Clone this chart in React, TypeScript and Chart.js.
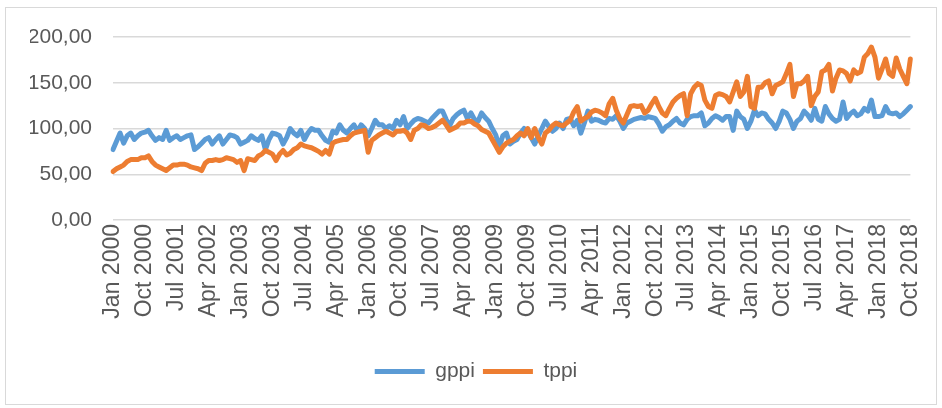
import React, { useEffect, useRef } from "react";
import { Chart, registerables } from "chart.js";

Chart.register(...registerables);

const monthNames = ["Jan", "Feb", "Mar", "Apr", "May", "Jun", "Jul", "Aug", "Sep", "Oct", "Nov", "Dec"];
const firstYear = 2000;
const monthCount = 226; // Jan 2000 .. Oct 2018

const categories: string[] = Array.from(
  { length: monthCount },
  (_, i) => `${monthNames[i % 12]} ${firstYear + Math.floor(i / 12)}`
);

const tickLabels = [
  "Jan 2000", "Oct 2000", "Jul 2001", "Apr 2002", "Jan 2003", "Oct 2003", "Jul 2004",
  "Apr 2005", "Jan 2006", "Oct 2006", "Jul 2007", "Apr 2008", "Jan 2009", "Oct 2009",
  "Jul 2010", "Apr 2011", "Jan 2012", "Oct 2012", "Jul 2013", "Apr 2014", "Jan 2015",
  "Oct 2015", "Jul 2016", "Apr 2017", "Jan 2018", "Oct 2018",
];

const yTickValues = [0, 50, 100, 150, 200];

const gppi = [
  77, 86, 95, 84, 92, 95, 88, 92, 95, 96, 98, 92,
  87, 90, 88, 98, 87, 90, 92, 88, 90, 92, 93, 77,
  80, 84, 88, 90, 83, 88, 92, 83, 88, 93, 92, 90,
  83, 85, 87, 92, 89, 87, 92, 77, 88, 95, 94, 92,
  83, 90, 100, 95, 92, 98, 88, 95, 100, 98, 98, 92,
  87, 85, 97, 95, 104, 98, 95, 100, 104, 97, 104, 100,
  92, 100, 109, 104, 104, 100, 103, 100, 109, 104, 113, 100,
  105, 109, 111, 110, 108, 106, 111, 115, 119, 119, 110, 103,
  111, 115, 118, 120, 111, 117, 110, 108, 117, 112, 108, 100,
  93, 80, 92, 95, 83, 86, 88, 95, 100, 97, 90, 83,
  92, 100, 108, 102, 97, 100, 106, 100, 110, 111, 103, 109,
  95, 106, 119, 108, 110, 109, 107, 106, 111, 110, 114, 108,
  100, 106, 108, 110, 111, 112, 111, 113, 112, 111, 105, 97,
  102, 104, 108, 111, 106, 104, 110, 113, 114, 114, 117, 103,
  106, 111, 114, 112, 109, 113, 113, 98, 119, 113, 110, 100,
  108, 120, 114, 117, 116, 110, 106, 100, 108, 119, 117, 110,
  100, 108, 111, 119, 115, 109, 122, 110, 108, 124, 116, 111,
  108, 110, 129, 111, 116, 119, 114, 116, 122, 119, 131, 113,
  113, 114, 124, 117, 116, 117, 113, 116, 120, 124,
];

const tppi = [
  53, 56, 58, 60, 64, 66, 66, 66, 68, 68, 70, 64,
  60, 58, 56, 54, 57, 60, 60, 61, 61, 60, 58, 57,
  56, 54, 62, 65, 65, 66, 65, 66, 68, 67, 66, 63,
  65, 54, 67, 66, 65, 70, 72, 76, 74, 72, 65, 72,
  76, 71, 73, 77, 79, 83, 81, 80, 79, 77, 75, 72,
  76, 72, 84, 86, 87, 88, 88, 92, 95, 96, 97, 98,
  74, 87, 90, 93, 95, 97, 95, 93, 97, 97, 98, 95,
  88, 98, 100, 104, 103, 100, 101, 103, 106, 109, 104, 98,
  100, 102, 106, 106, 108, 108, 105, 103, 99, 97, 95, 88,
  81, 74, 80, 84, 86, 88, 92, 95, 92, 100, 90, 100,
  90, 83, 95, 98, 103, 106, 104, 103, 106, 109, 118, 124,
  108, 111, 113, 118, 120, 119, 117, 114, 127, 133, 120, 111,
  106, 115, 124, 125, 124, 125, 117, 120, 127, 133, 124, 117,
  114, 122, 129, 133, 136, 138, 114, 138, 145, 149, 147, 131,
  124, 122, 136, 138, 137, 135, 129, 140, 151, 135, 140, 157,
  124, 122, 145, 145, 150, 152, 138, 147, 149, 151, 160, 170,
  135, 149, 149, 152, 157, 125, 135, 140, 162, 164, 170, 141,
  155, 164, 163, 160, 152, 164, 160, 162, 178, 182, 189, 178,
  155, 165, 176, 160, 157, 177, 165, 157, 149, 176,
];

const seriesNames = ["gppi", "tppi"];
const seriesColors = ["#5B9BD5", "#ED7D31"];

const FONT = "'Liberation Sans', Arial, sans-serif";
const TEXT = "#595959";

export default function App() {
  const canvasRef = useRef<HTMLCanvasElement | null>(null);

  useEffect(() => {
    if (!canvasRef.current) return;
    const tickSet = new Set(tickLabels);
    const chart = new Chart(canvasRef.current, {
      type: "line",
      data: {
        labels: categories,
        datasets: [
          {
            label: seriesNames[0],
            data: gppi,
            borderColor: seriesColors[0],
            backgroundColor: seriesColors[0],
            borderWidth: 5,
            pointRadius: 0,
            tension: 0,
            borderJoinStyle: "round",
            borderCapStyle: "round",
            order: 1,
          },
          {
            label: seriesNames[1],
            data: tppi,
            borderColor: seriesColors[1],
            backgroundColor: seriesColors[1],
            borderWidth: 5,
            pointRadius: 0,
            tension: 0,
            borderJoinStyle: "round",
            borderCapStyle: "round",
            order: 0,
          },
        ],
      },
      options: {
        animation: false,
        responsive: false,
        maintainAspectRatio: false,
        layout: { padding: { left: 30, right: 20, top: 37, bottom: 16 } },
        plugins: {
          tooltip: { enabled: false },
          legend: {
            position: "bottom",
            labels: {
              boxWidth: 50,
              boxHeight: 5,
              padding: 8,
              color: TEXT,
              font: { family: FONT, size: 21 },
              sort: (a: any, b: any) => a.datasetIndex - b.datasetIndex,
              generateLabels: (c: any) =>
                (Chart.defaults.plugins.legend.labels.generateLabels as any)(c).map((l: any) => ({
                  ...l,
                  lineWidth: 0,
                })),
            },
          },
        },
        scales: {
          x: {
            type: "category",
            grid: { display: false, drawTicks: false },
            border: { display: false },
            ticks: {
              autoSkip: false,
              minRotation: 90,
              maxRotation: 90,
              padding: 4,
              color: TEXT,
              font: { family: FONT, size: 23 },
              callback: (_v: any, idx: number) => (tickSet.has(categories[idx]) ? categories[idx] : null),
            },
            afterFit: (s: any) => {
              s.height = 133;
            },
          },
          y: {
            min: yTickValues[0],
            max: yTickValues[yTickValues.length - 1],
            grid: { color: "#D9D9D9", lineWidth: 1.5, drawTicks: false },
            border: { display: false },
            afterBuildTicks: (s: any) => {
              s.ticks = yTickValues.map((v) => ({ value: v }));
            },
            ticks: {
              padding: 21,
              color: TEXT,
              font: { family: FONT, size: 21 },
              callback: (v: any) => Number(v).toFixed(2).replace(".", ","),
            },
            afterFit: (s: any) => {
              s.width = 83;
            },
          },
        },
      },
    });
    return () => chart.destroy();
  }, []);

  return (
    <div style={{ position: "fixed", left: 0, top: 0, width: 942, height: 408, background: "#fff" }}>
      <div
        style={{
          position: "absolute",
          left: 5,
          top: 7,
          width: 930,
          height: 396,
          border: "1px solid #D9D9D9",
        }}
      />
      <canvas
        ref={canvasRef}
        width={942}
        height={408}
        style={{ position: "absolute", left: 0, top: 0, width: 942, height: 408 }}
      />
    </div>
  );
}
